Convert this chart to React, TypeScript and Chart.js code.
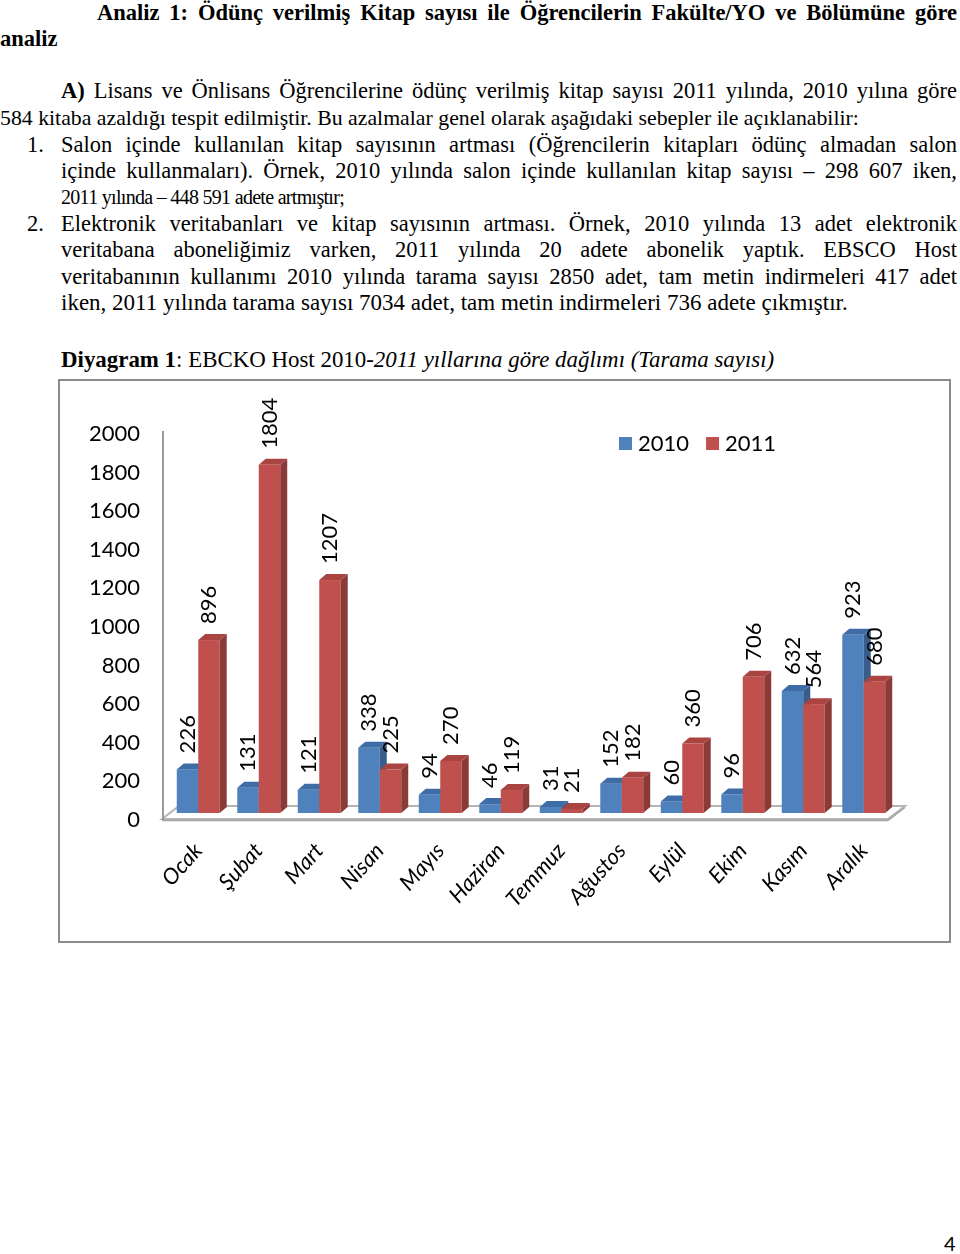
import React, { useEffect, useRef } from 'react';
import { Chart, registerables } from 'chart.js';

Chart.register(...registerables);

// ---------- data ----------
const months = ['Ocak', 'Şubat', 'Mart', 'Nisan', 'Mayıs', 'Haziran', 'Temmuz', 'Ağustos', 'Eylül', 'Ekim', 'Kasım', 'Aralık'];
const series2010 = [226, 131, 121, 338, 94, 46, 31, 152, 60, 96, 632, 923];
const series2011 = [896, 1804, 1207, 225, 270, 119, 21, 182, 360, 706, 564, 680];
const seriesNames = ['2010', '2011'];
const yMin = 0;
const yMax = 2000;
const yStep = 200;

// ---------- style ----------
const FRONT = ['#4F81BD', '#C0504D'];
const SIDE = ['#385D8A', '#8C3A38'];
const TOPC = ['#3E6CA6', '#A94441'];
const DX = 7;
const DY = -6;
const FLOOR_DX = 17;
const FLOOR_DY = -13;
const SANS = 'Lato, "Noto Sans", sans-serif';
const SERIF = '"Liberation Serif", "Times New Roman", serif';

const threeD = {
  id: 'threeD',
  beforeDatasetsDraw(chart: any) {
    const { ctx, chartArea: a } = chart;
    ctx.save();
    const fl = a.left - 6;
    const fr = a.right - 6;
    const fy = a.bottom + 6;
    // floor
    ctx.beginPath();
    ctx.moveTo(fl, fy);
    ctx.lineTo(fr, fy);
    ctx.lineTo(fr + FLOOR_DX, fy + FLOOR_DY);
    ctx.lineTo(fl + FLOOR_DX, fy + FLOOR_DY);
    ctx.closePath();
    ctx.fillStyle = '#ffffff';
    ctx.fill();
    ctx.strokeStyle = '#b4b4b4';
    ctx.lineWidth = 2;
    ctx.stroke();
    ctx.beginPath();
    ctx.moveTo(fl, fy + 1.5);
    ctx.lineTo(fr, fy + 1.5);
    ctx.lineTo(fr + FLOOR_DX, fy + FLOOR_DY + 1.5);
    ctx.strokeStyle = '#a6a6a6';
    ctx.lineWidth = 1.5;
    ctx.stroke();
    // vertical axis line
    const yTop = chart.scales.y.getPixelForValue(yMax) + 4;
    ctx.beginPath();
    ctx.moveTo(fl + 1, yTop);
    ctx.lineTo(fl + 1, fy + 1);
    ctx.strokeStyle = '#9a9a9a';
    ctx.lineWidth = 2;
    ctx.stroke();

    // bars
    const nSets = chart.data.datasets.length;
    const n = chart.data.labels.length;
    for (let j = 0; j < n; j++) {
      for (let i = 0; i < nSets; i++) {
        const el = chart.getDatasetMeta(i).data[j];
        const { x, y, base, width } = el.getProps(['x', 'y', 'base', 'width'], true);
        const l = x - width / 2;
        const r = x + width / 2;
        ctx.fillStyle = FRONT[i];
        ctx.fillRect(l, y, width, base - y);
        ctx.beginPath();
        ctx.moveTo(r, y);
        ctx.lineTo(r + DX, y + DY);
        ctx.lineTo(r + DX, base + DY);
        ctx.lineTo(r, base);
        ctx.closePath();
        ctx.fillStyle = SIDE[i];
        ctx.fill();
        ctx.beginPath();
        ctx.moveTo(l, y);
        ctx.lineTo(l + DX, y + DY);
        ctx.lineTo(r + DX, y + DY);
        ctx.lineTo(r, y);
        ctx.closePath();
        ctx.fillStyle = TOPC[i];
        ctx.fill();
      }
    }
    ctx.restore();
    return false;
  },
  afterDraw(chart: any) {
    const { ctx } = chart;
    ctx.save();
    ctx.font = `22px ${SANS}`;
    ctx.fillStyle = '#000';
    ctx.textAlign = 'left';
    ctx.textBaseline = 'middle';
    chart.data.datasets.forEach((ds: any, i: number) => {
      chart.getDatasetMeta(i).data.forEach((el: any, j: number) => {
        const { x, y } = el.getProps(['x', 'y'], true);
        ctx.save();
        ctx.translate(x, y - 16);
        ctx.rotate(-Math.PI / 2);
        ctx.fillText(String(ds.data[j]), 0, 0);
        ctx.restore();
      });
    });
    // legend
    let lx = 559;
    const ly = 63;
    chart.data.datasets.forEach((ds: any, i: number) => {
      ctx.fillStyle = FRONT[i];
      ctx.fillRect(lx, ly - 7, 13, 13);
      ctx.fillStyle = '#000';
      ctx.fillText(ds.label, lx + 19, ly);
      lx += 19 + ctx.measureText(ds.label).width + 17;
    });
    ctx.restore();
  },
};

function ChartBox() {
  const ref = useRef<HTMLCanvasElement | null>(null);
  useEffect(() => {
    if (!ref.current) return;
    const chart = new Chart(ref.current, {
      type: 'bar',
      data: {
        labels: months,
        datasets: [
          { label: seriesNames[0], data: series2010, backgroundColor: FRONT[0] },
          { label: seriesNames[1], data: series2011, backgroundColor: FRONT[1] },
        ],
      },
      options: {
        responsive: false,
        animation: false,
        events: [],
        layout: { padding: { left: 29, right: 55, top: 46, bottom: 0 } },
        plugins: { legend: { display: false }, tooltip: { enabled: false } },
        datasets: { bar: { barPercentage: 1, categoryPercentage: 0.71 } },
        scales: {
          x: {
            grid: { display: false, drawTicks: false },
            border: { display: false },
            ticks: {
              autoSkip: false,
              minRotation: 48,
              maxRotation: 48,
              padding: 25,
              color: '#000',
              font: { family: SANS, size: 22, style: 'italic' },
            },
            afterFit: (s: any) => { s.height = 128; },
          },
          y: {
            min: yMin,
            max: yMax,
            grid: { display: false, drawTicks: false },
            border: { display: false },
            ticks: {
              stepSize: yStep,
              padding: 28,
              labelOffset: 7,
              color: '#000',
              font: { family: SANS, size: 22 },
              callback: (v: any) => String(v),
            },
            afterFit: (s: any) => { s.width = 79; },
          },
        },
      },
      plugins: [threeD],
    } as any);
    return () => chart.destroy();
  }, []);
  return <canvas ref={ref} width={889} height={560} style={{ display: 'block', width: 889, height: 560 }} />;
}

const FS = 22.5;
const LH = 26;

function Line(props: { top: number; left: number; right?: number; justify?: boolean; children: any; bold?: boolean; size?: number; spacing?: number }) {
  const { top, left, right = 957, justify, children, bold, size = FS, spacing = 0 } = props;
  return (
    <div
      style={{
        position: 'absolute',
        top,
        left,
        width: right - left,
        whiteSpace: 'nowrap',
        textAlign: justify ? 'justify' : 'left',
        textAlignLast: justify ? 'justify' : 'left',
        fontWeight: bold ? 700 : 400,
        fontFamily: SERIF,
        fontSize: size,
        letterSpacing: spacing,
        lineHeight: `${LH}px`,
        color: '#000',
      } as any}
    >
      {children}
    </div>
  );
}

export default function App() {
  return (
    <div style={{ position: 'absolute', left: 0, top: 0, width: 960, height: 1254, background: '#fff', overflow: 'hidden' }}>
      <Line top={0} left={97} justify bold>Analiz 1: Ödünç verilmiş Kitap sayısı ile Öğrencilerin Fakülte/YO ve Bölümüne göre</Line>
      <Line top={26} left={0} bold>analiz</Line>

      <Line top={78} left={61} justify><b>A)</b> Lisans ve Önlisans Öğrencilerine ödünç verilmiş kitap sayısı 2011 yılında, 2010 yılına göre</Line>
      <Line top={105} left={0} size={21.8}>584 kitaba azaldığı tespit edilmiştir. Bu azalmalar genel olarak aşağıdaki sebepler ile açıklanabilir:</Line>

      <Line top={132} left={27}>1.</Line>
      <Line top={132} left={61} justify>Salon içinde kullanılan kitap sayısının artması (Öğrencilerin kitapları ödünç almadan salon</Line>
      <Line top={158} left={61} justify>içinde kullanmaları). Örnek, 2010 yılında salon içinde kullanılan kitap sayısı – 298 607 iken,</Line>
      <Line top={184} left={61} size={20} spacing={-0.7}>2011 yılında – 448 591 adete artmıştır;</Line>

      <Line top={211} left={27}>2.</Line>
      <Line top={211} left={61} justify>Elektronik veritabanları ve kitap sayısının artması. Örnek, 2010 yılında 13 adet elektronik</Line>
      <Line top={237} left={61} justify>veritabana aboneliğimiz varken, 2011 yılında 20 adete abonelik yaptık. EBSCO Host</Line>
      <Line top={264} left={61} justify>veritabanının kullanımı 2010 yılında tarama sayısı 2850 adet, tam metin indirmeleri 417 adet</Line>
      <Line top={290} left={61} size={23}>iken, 2011 yılında tarama sayısı 7034 adet, tam metin indirmeleri 736 adete çıkmıştır.</Line>

      <Line top={347} left={61} size={22.9}><b>Diyagram 1</b>: EBCKO Host 2010-<i>2011 yıllarına göre dağlımı (Tarama sayısı)</i></Line>

      <div style={{ position: 'absolute', left: 58, top: 379, width: 889, height: 560, border: '2px solid #8c8c8c', background: '#fff' }}>
        <ChartBox />
      </div>

      <div style={{ position: 'absolute', left: 944, top: 1231, fontFamily: SANS, fontSize: 20, lineHeight: '24px', color: '#000' }}>4</div>
    </div>
  );
}
